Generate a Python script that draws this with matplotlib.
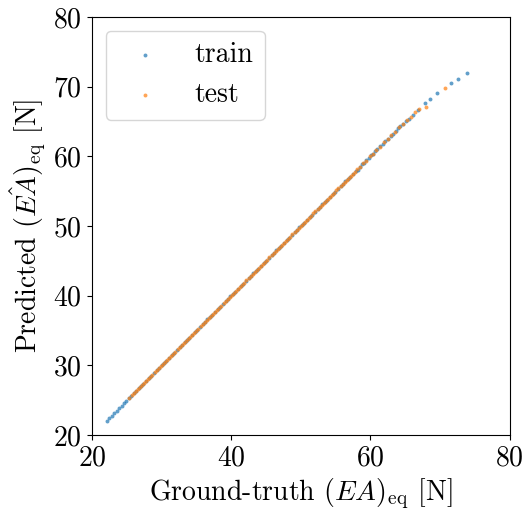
import matplotlib
matplotlib.use("Agg")
import matplotlib.pyplot as plt

plt.rcParams["font.family"] = "serif"
plt.rcParams["font.serif"] = ["cmr10"]
plt.rcParams["mathtext.fontset"] = "cm"
plt.rcParams["axes.formatter.use_mathtext"] = True
plt.rcParams["axes.unicode_minus"] = False

train_true = [22.2, 22.5, 22.9, 23.2, 23.6, 23.9, 24.3, 24.6, 24.9, 25.3, 25.6, 26.0, 26.4, 26.7,
              27.1, 27.4, 27.8, 28.2, 28.5, 28.9, 29.3, 29.6, 30.0, 30.4, 30.7, 31.1, 31.5, 31.8,
              32.2, 32.6, 32.9, 33.3, 33.7, 34.0, 34.4, 34.8, 35.1, 35.5, 35.9, 36.2, 36.6, 37.0,
              37.3, 37.7, 38.1, 38.4, 38.8, 39.2, 39.5, 39.9, 40.3, 40.6, 41.0, 41.4, 41.7, 42.1,
              42.5, 42.8, 43.2, 43.6, 43.9, 44.3, 44.7, 45.0, 45.4, 45.8, 46.1, 46.5, 46.9, 47.2,
              47.6, 48.0, 48.3, 48.7, 49.1, 49.4, 49.8, 50.2, 50.5, 50.9, 51.3, 51.6, 52.0, 52.4,
              52.7, 53.1, 53.5, 53.8, 54.2, 54.6, 54.9, 55.3, 55.7, 56.0, 56.4, 56.8, 57.1, 57.5,
              57.9, 58.2, 58.5, 58.8, 59.1, 59.4, 59.8, 60.1, 60.4, 60.7, 61.0, 61.4, 61.8, 62.1,
              62.5, 62.9, 63.2, 63.6, 64.0, 64.3, 64.7, 65.1, 65.5, 66.1, 66.8, 67.8, 68.6, 69.5,
              71.5, 72.5, 73.8]
train_pred = [22.0, 22.4, 22.8, 23.2, 23.5, 23.9, 24.2, 24.6, 24.9, 25.3, 25.6, 26.0, 26.4, 26.7,
              27.1, 27.4, 27.8, 28.2, 28.5, 28.9, 29.3, 29.6, 30.0, 30.4, 30.7, 31.1, 31.5, 31.8,
              32.2, 32.6, 32.9, 33.3, 33.7, 34.0, 34.4, 34.8, 35.1, 35.5, 35.9, 36.2, 36.6, 37.0,
              37.3, 37.7, 38.1, 38.4, 38.8, 39.2, 39.5, 39.9, 40.3, 40.6, 41.0, 41.4, 41.7, 42.1,
              42.5, 42.8, 43.2, 43.6, 43.9, 44.3, 44.7, 45.0, 45.4, 45.8, 46.1, 46.5, 46.9, 47.2,
              47.6, 48.0, 48.3, 48.7, 49.1, 49.4, 49.8, 50.2, 50.5, 50.9, 51.3, 51.6, 52.0, 52.4,
              52.7, 53.1, 53.5, 53.8, 54.2, 54.6, 54.9, 55.3, 55.7, 56.0, 56.4, 56.8, 57.1, 57.5,
              57.9, 58.1, 58.5, 58.9, 59.1, 59.5, 59.8, 60.2, 60.4, 60.8, 61.0, 61.5, 61.8, 62.2,
              62.5, 62.9, 63.2, 63.6, 64.0, 64.3, 64.6, 65.0, 65.4, 66.0, 66.7, 67.6, 68.2, 69.1,
              70.5, 71.1, 72.0]

test_true = [25.4, 25.7, 26.0, 26.3, 26.6, 26.9, 27.2, 27.5, 27.8, 28.1, 28.4, 28.7, 29.0, 29.3,
             29.6, 29.9, 30.2, 30.5, 30.8, 31.1, 31.4, 31.7, 32.0, 32.3, 32.6, 32.9, 33.2, 33.5,
             33.8, 34.1, 34.4, 34.7, 35.0, 35.3, 35.6, 35.9, 36.2, 36.5, 36.8, 37.1, 37.4, 37.7,
             38.0, 38.3, 38.6, 38.9, 39.2, 39.5, 39.8, 40.1, 40.4, 40.7, 41.0, 41.3, 41.6, 41.9,
             42.2, 42.5, 42.8, 43.1, 43.4, 43.7, 44.0, 44.3, 44.6, 44.9, 45.2, 45.5, 45.8, 46.1,
             46.4, 46.7, 47.0, 47.3, 47.6, 47.9, 48.2, 48.5, 48.8, 49.1, 49.4, 49.7, 50.0, 50.3,
             50.6, 50.9, 51.2, 51.5, 51.8, 52.1, 52.4, 52.7, 53.0, 53.3, 53.6, 53.9, 54.2, 54.5,
             54.8, 55.1, 55.4, 55.7, 56.0, 56.3, 56.6, 56.9, 57.2, 57.5, 57.8, 58.1, 58.5, 58.9,
             59.4, 59.9, 60.3, 60.8, 61.4, 61.9, 62.5, 63.0, 63.5, 64.1, 64.7, 65.2, 65.8, 66.4,
             67.0, 68.0, 70.7]
test_pred = [25.4, 25.7, 26.0, 26.3, 26.6, 26.9, 27.2, 27.5, 27.8, 28.1, 28.4, 28.7, 29.0, 29.3,
             29.6, 29.9, 30.2, 30.5, 30.8, 31.1, 31.4, 31.7, 32.0, 32.3, 32.6, 32.9, 33.2, 33.5,
             33.8, 34.1, 34.4, 34.7, 35.0, 35.3, 35.6, 35.9, 36.2, 36.5, 36.8, 37.1, 37.4, 37.7,
             38.0, 38.3, 38.6, 38.9, 39.2, 39.5, 39.8, 40.1, 40.4, 40.7, 41.0, 41.3, 41.6, 41.9,
             42.2, 42.5, 42.8, 43.1, 43.4, 43.7, 44.0, 44.3, 44.6, 44.9, 45.2, 45.5, 45.8, 46.1,
             46.4, 46.7, 47.0, 47.3, 47.6, 47.9, 48.2, 48.5, 48.8, 49.1, 49.4, 49.7, 50.0, 50.3,
             50.6, 50.9, 51.2, 51.5, 51.8, 52.1, 52.4, 52.7, 53.0, 53.3, 53.6, 53.9, 54.2, 54.5,
             54.8, 55.1, 55.4, 55.7, 56.0, 56.3, 56.6, 56.9, 57.2, 57.5, 57.8, 58.2, 58.5, 59.0,
             59.4, 60.0, 60.3, 60.9, 61.4, 62.0, 62.5, 63.1, 63.5, 64.2, 64.7, 65.2, 65.7, 66.3,
             66.8, 67.1, 69.8]

fig = plt.figure(figsize=(5.25, 5.12), dpi=100)
ax = fig.add_axes([0.175, 0.150, 0.796, 0.817])

ax.scatter(train_true, train_pred, s=8, alpha=0.7, color="C0", label="train", linewidths=0)
ax.scatter(test_true, test_pred, s=8, alpha=0.7, color="C1", label="test", linewidths=0)

ax.set_xlim(20, 80)
ax.set_ylim(20, 80)
ax.set_xticks([20, 40, 60, 80])
ax.set_yticks([20, 30, 40, 50, 60, 70, 80])
ax.tick_params(labelsize=20)
ax.set_xlabel(r"Ground-truth $(EA)_{\mathrm{eq}}$ [N]", fontsize=20)
ax.set_ylabel(r"Predicted $(\hat{EA})_{\mathrm{eq}}$ [N]", fontsize=20)
ax.legend(loc="upper left", fontsize=20)

fig.savefig("out.png", dpi=100)
